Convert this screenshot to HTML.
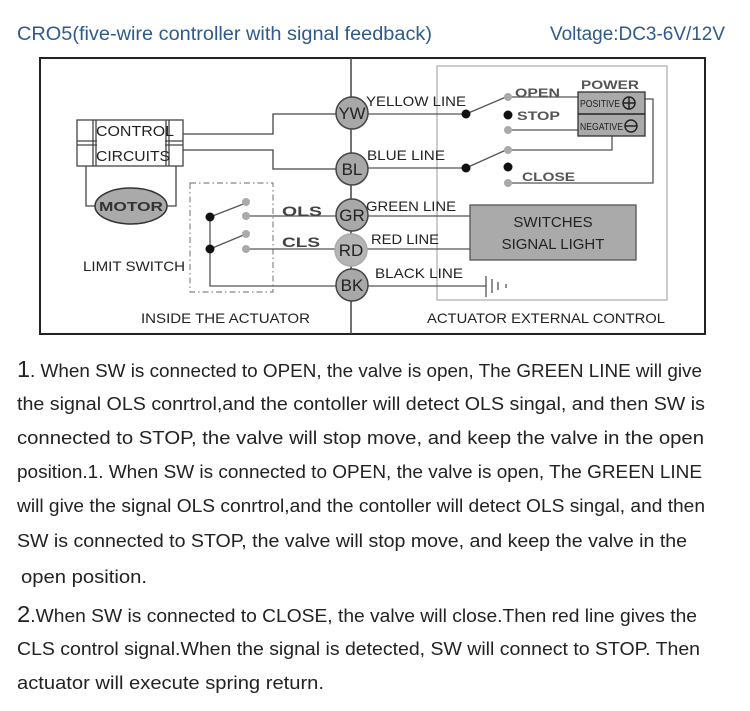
<!DOCTYPE html>
<html><head><meta charset="utf-8"><style>
html,body{margin:0;padding:0;background:#fff;}
svg{display:block;}
.t{font-family:"Liberation Sans",sans-serif;}
</style></head><body>
<svg width="750" height="711" viewBox="0 0 750 711" xmlns="http://www.w3.org/2000/svg" class="t">
<rect width="750" height="711" fill="#fff"/>
<!-- title -->
<text x="17" y="40" font-size="19" fill="#2e5a8c" textLength="415" lengthAdjust="spacingAndGlyphs">CRO5(five-wire controller with signal feedback)</text>
<text x="550" y="40" font-size="19" fill="#2e5a8c" textLength="175" lengthAdjust="spacingAndGlyphs">Voltage:DC3-6V/12V</text>

<!-- outer box -->
<rect x="40" y="58" width="665" height="276" fill="#fff" stroke="#222" stroke-width="2"/>
<line x1="351" y1="58" x2="351" y2="334" stroke="#444" stroke-width="1.5"/>
<!-- external control box -->
<rect x="437" y="66" width="230" height="234" fill="none" stroke="#bbb" stroke-width="1.5"/>

<!-- control circuits -->
<g stroke="#444" stroke-width="1.3" fill="#fff">
<rect x="77" y="120" width="106" height="46"/>
<line x1="77" y1="141" x2="183" y2="141"/><line x1="77" y1="145" x2="183" y2="145"/>
<line x1="93" y1="120" x2="93" y2="166"/><line x1="96" y1="120" x2="96" y2="166"/>
<line x1="166" y1="120" x2="166" y2="166"/><line x1="169" y1="120" x2="169" y2="166"/>
</g>
<rect x="97" y="121" width="68" height="44" fill="#fff"/>
<text x="96" y="136" font-size="15" fill="#222" textLength="78" lengthAdjust="spacingAndGlyphs">CONTROL</text>
<text x="96" y="161" font-size="15" fill="#222" textLength="74" lengthAdjust="spacingAndGlyphs">CIRCUITS</text>
<g stroke="#444" stroke-width="1.3" fill="none">
<polyline points="183,134 273,134 273,114 340,114"/>
<polyline points="183,150 273,150 273,169 340,169"/>
<polyline points="86,166 86,206 95,206"/>
<polyline points="176,166 176,206 167,206"/>
</g>
<ellipse cx="131" cy="206" rx="36" ry="18" fill="#aaa" stroke="#333" stroke-width="1.5"/>
<text x="131" y="211" font-size="13" font-weight="bold" fill="#333" text-anchor="middle" textLength="64" lengthAdjust="spacingAndGlyphs">MOTOR</text>

<!-- limit switch -->
<rect x="190" y="183" width="83" height="109" fill="none" stroke="#888" stroke-width="1.2" stroke-dasharray="6,3,1.5,3"/>
<g stroke="#555" stroke-width="1.3" fill="none">
<polyline points="210,217 210,286 340,286"/>
<line x1="210" y1="217" x2="246" y2="203"/>
<line x1="210" y1="249" x2="246" y2="234"/>
<line x1="246" y1="216" x2="340" y2="216"/>
<line x1="246" y1="249" x2="340" y2="249"/>
</g>
<circle cx="210" cy="217" r="4.5" fill="#111"/><circle cx="210" cy="249" r="4.5" fill="#111"/>
<g fill="#aaa"><circle cx="246" cy="202" r="4"/><circle cx="246" cy="216" r="4"/><circle cx="246" cy="234" r="4"/><circle cx="246" cy="249" r="4"/></g>
<text x="282" y="216" font-size="14" font-weight="bold" fill="#444" textLength="40" lengthAdjust="spacingAndGlyphs">OLS</text>
<text x="282" y="247" font-size="14" font-weight="bold" fill="#444" textLength="38" lengthAdjust="spacingAndGlyphs">CLS</text>
<text x="83" y="271" font-size="14" fill="#222" textLength="102" lengthAdjust="spacingAndGlyphs">LIMIT SWITCH</text>
<text x="141" y="323" font-size="14" fill="#222" textLength="169" lengthAdjust="spacingAndGlyphs">INSIDE THE ACTUATOR</text>
<text x="427" y="323" font-size="14" fill="#222" textLength="238" lengthAdjust="spacingAndGlyphs">ACTUATOR EXTERNAL CONTROL</text>

<!-- right wiring -->
<g stroke="#555" stroke-width="1.3" fill="none">
<line x1="364" y1="114" x2="466" y2="114"/>
<line x1="364" y1="168" x2="466" y2="168"/>
<line x1="466" y1="114" x2="506" y2="97"/>
<line x1="466" y1="168" x2="506" y2="150"/>
<line x1="508" y1="97" x2="578" y2="97"/>
<line x1="508" y1="130" x2="578" y2="130"/>
<polyline points="508,150 612,150 612,136"/>
<polyline points="508,183 653,183 653,99 645,99"/>
<line x1="364" y1="216" x2="470" y2="216"/>
<line x1="364" y1="249" x2="470" y2="249"/>
<line x1="364" y1="286" x2="486" y2="286"/>
<line x1="486" y1="276" x2="486" y2="297"/>
<line x1="492" y1="279" x2="492" y2="293"/>
<line x1="498" y1="282" x2="498" y2="290"/>
<line x1="506" y1="284" x2="506" y2="288"/>
</g>
<circle cx="466" cy="114" r="4.5" fill="#111"/><circle cx="466" cy="168" r="4.5" fill="#111"/>
<circle cx="508" cy="115" r="4.5" fill="#111"/><circle cx="508" cy="167" r="4.5" fill="#111"/>
<g fill="#aaa"><circle cx="508" cy="97" r="4"/><circle cx="508" cy="130" r="4"/><circle cx="508" cy="150" r="4"/><circle cx="508" cy="183" r="4"/></g>
<text x="515" y="97" font-size="12" font-weight="bold" fill="#555" textLength="45" lengthAdjust="spacingAndGlyphs">OPEN</text>
<text x="517" y="120" font-size="12" font-weight="bold" fill="#555" textLength="43" lengthAdjust="spacingAndGlyphs">STOP</text>
<text x="522" y="181" font-size="12" font-weight="bold" fill="#555" textLength="53" lengthAdjust="spacingAndGlyphs">CLOSE</text>
<text x="581" y="89" font-size="12" font-weight="bold" fill="#555" textLength="58" lengthAdjust="spacingAndGlyphs">POWER</text>
<rect x="578" y="92" width="67" height="44" fill="#aaa" stroke="#333" stroke-width="1.3"/>
<line x1="578" y1="114" x2="645" y2="114" stroke="#222" stroke-width="1.5"/>
<text x="580" y="107" font-size="10" fill="#222" textLength="40" lengthAdjust="spacingAndGlyphs">POSITIVE</text>
<text x="580" y="130" font-size="10" fill="#222" textLength="43" lengthAdjust="spacingAndGlyphs">NEGATIVE</text>
<circle cx="629" cy="103" r="6" fill="none" stroke="#222" stroke-width="1.5"/><line x1="623" y1="103" x2="635" y2="103" stroke="#222" stroke-width="1.5"/><line x1="629" y1="97" x2="629" y2="109" stroke="#222" stroke-width="1.5"/>
<circle cx="631" cy="126" r="6" fill="none" stroke="#222" stroke-width="1.5"/><line x1="625" y1="126" x2="637" y2="126" stroke="#222" stroke-width="1.5"/>
<rect x="470" y="205" width="166" height="55" fill="#aaa" stroke="#555" stroke-width="1.3"/>
<text x="553" y="227" font-size="15" fill="#222" text-anchor="middle">SWITCHES</text>
<text x="553" y="249" font-size="15" fill="#222" text-anchor="middle">SIGNAL LIGHT</text>
<text x="366" y="106" font-size="14" fill="#222" textLength="100" lengthAdjust="spacingAndGlyphs">YELLOW LINE</text>
<text x="367" y="160" font-size="14" fill="#222" textLength="78" lengthAdjust="spacingAndGlyphs">BLUE LINE</text>
<text x="366" y="211" font-size="14" fill="#222" textLength="90" lengthAdjust="spacingAndGlyphs">GREEN LINE</text>
<text x="371" y="244" font-size="14" fill="#222" textLength="68" lengthAdjust="spacingAndGlyphs">RED LINE</text>
<text x="375" y="278" font-size="14" fill="#222" textLength="88" lengthAdjust="spacingAndGlyphs">BLACK LINE</text>

<!-- terminals -->
<g stroke="#444" stroke-width="1.5" fill="#a8a8a8">
<circle cx="352" cy="113" r="16"/><circle cx="352" cy="169" r="16"/><circle cx="352" cy="215" r="16"/><circle cx="352" cy="285" r="16"/>
</g>
<circle cx="351" cy="250" r="16" fill="#b5b5b5" stroke="#aaa" stroke-width="1.5"/>
<g font-size="17" fill="#222" text-anchor="middle">
<text x="352" y="119" textLength="27" lengthAdjust="spacingAndGlyphs">YW</text>
<text x="352" y="175">BL</text>
<text x="352" y="221">GR</text>
<text x="351" y="256">RD</text>
<text x="352" y="291">BK</text>
</g>

<!-- paragraphs -->
<g font-size="18.5" fill="#222" lengthAdjust="spacingAndGlyphs">
<text x="17" y="377" textLength="685" lengthAdjust="spacingAndGlyphs"><tspan font-size="23">1</tspan>. When SW is connected to OPEN, the valve is open, The GREEN LINE will give</text>
<text x="17" y="410" textLength="688" lengthAdjust="spacingAndGlyphs">the signal OLS conrtrol,and the contoller will detect OLS singal, and then SW is</text>
<text x="17" y="444" textLength="687" lengthAdjust="spacingAndGlyphs">connected to STOP, the valve will stop move, and keep the valve in the open</text>
<text x="17" y="478" textLength="685" lengthAdjust="spacingAndGlyphs">position.1. When SW is connected to OPEN, the valve is open, The GREEN LINE</text>
<text x="17" y="512" textLength="688" lengthAdjust="spacingAndGlyphs">will give the signal OLS conrtrol,and the contoller will detect OLS singal, and then</text>
<text x="17" y="547" textLength="670" lengthAdjust="spacingAndGlyphs">SW is connected to STOP, the valve will stop move, and keep the valve in the</text>
<text x="21" y="583" textLength="126" lengthAdjust="spacingAndGlyphs">open position.</text>
<text x="17" y="622" textLength="680" lengthAdjust="spacingAndGlyphs"><tspan font-size="23">2</tspan>.When SW is connected to CLOSE, the valve will close.Then red line gives the</text>
<text x="17" y="655" textLength="683" lengthAdjust="spacingAndGlyphs">CLS control signal.When the signal is detected, SW will connect to STOP. Then</text>
<text x="17" y="689" textLength="307" lengthAdjust="spacingAndGlyphs">actuator will execute spring return.</text>
</g>
</svg>
</body></html>
